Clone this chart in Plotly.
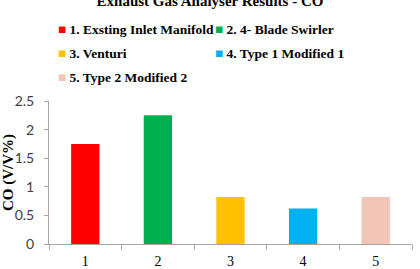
import plotly.graph_objects as go

categories = ["1", "2", "3", "4", "5"]
values = [1.75, 2.25, 0.82, 0.62, 0.82]
names = ["1. Exsting Inlet Manifold", "2. 4- Blade Swirler", "3. Venturi",
         "4. Type 1 Modified 1", "5. Type 2 Modified 2"]
colors = ["#FF0000", "#00B050", "#FFC000", "#00B0F0", "#F2C4B6"]
y_ticks = [0, 0.5, 1, 1.5, 2, 2.5]
y_tick_labels = ["0", "0.5", "1", "1.5", "2", "2.5"]

W, H = 420, 269
L, R, T, B = 49, 8, 101, 25
pw, ph = W - L - R, H - T - B

def px_x(x):
    return (x - L) / pw

def px_y(y):
    return 1 + (T - y) / ph

serif = "Liberation Serif"

fig = go.Figure()
for i, (c, v, n, col) in enumerate(zip(categories, values, names, colors)):
    fig.add_trace(go.Bar(x=[c], y=[v], marker=dict(color=col, line=dict(width=0)),
                         width=0.39, showlegend=False))

# legend entries (one legend per entry to match the 2-column layout)
legend_pos = [(58, 29), (215, 29), (58, 53), (215, 53), (58, 77)]
for i, (n, col) in enumerate(zip(names, colors)):
    lname = "legend" if i == 0 else f"legend{i+1}"
    fig.add_trace(go.Scatter(x=[None], y=[None], mode="markers",
                             marker=dict(color="rgba(0,0,0,0)", size=1),
                             name=f'<span style="color:{col}">■</span><b> {n}</b>',
                             legend=lname, showlegend=True))
    lx, ly = legend_pos[i]
    fig.update_layout(**{lname: dict(x=px_x(lx - 40), y=px_y(ly), xanchor="left",
                                     yanchor="middle", bgcolor="rgba(0,0,0,0)",
                                     borderwidth=0, orientation="h",
                                     font=dict(family=serif, size=13.5, color="#000000"))})

fig.update_layout(
    width=W, height=H,
    margin=dict(l=L, r=R, t=T, b=B, pad=0, autoexpand=False),
    paper_bgcolor="white", plot_bgcolor="white",
    barmode="overlay",
    title=dict(text="<b>Exhaust Gas Analyser Results - CO</b>",
               font=dict(family=serif, size=15, color="#000000"),
               x=0.5, xref="container", xanchor="center",
               y=0.997, yref="container", yanchor="middle"),
    xaxis=dict(type="category", categoryorder="array", categoryarray=categories,
               showline=True, linecolor="#A6A6A6", linewidth=1, automargin=False,
               ticks="outside", tickson="boundaries", ticklen=5, tickcolor="#A6A6A6",
               tickfont=dict(family=serif, size=14, color="#000000"),
               ticklabelstandoff=4, showgrid=False, zeroline=False, fixedrange=True),
    yaxis=dict(range=[0, 2.5], tickvals=y_ticks, ticktext=y_tick_labels,
               showline=True, linecolor="#A6A6A6", linewidth=1, automargin=False,
               ticks="outside", ticklen=4, tickcolor="#A6A6A6",
               tickfont=dict(family="Lato", size=14, color="#404040"),
               ticklabelstandoff=7, showgrid=False, zeroline=False,
               title=dict(text="<b>CO (V/V%)</b>", standoff=1,
                          font=dict(family=serif, size=15, color="#000000"))),
)

fig.write_html("out.html")
